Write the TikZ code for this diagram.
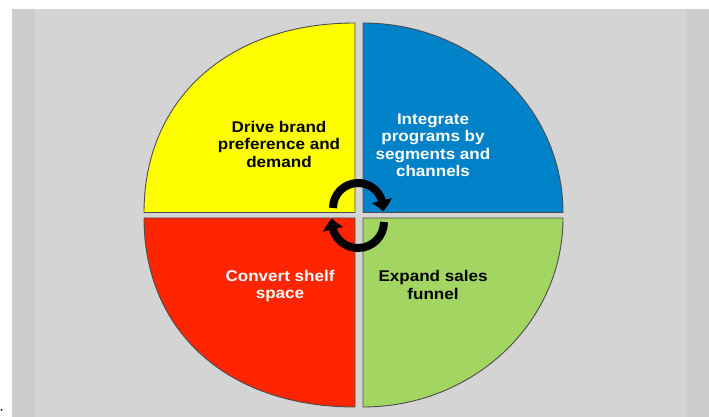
\documentclass[tikz,border=0pt]{standalone}
\usepackage{fontspec}
\setmainfont{Liberation Sans}[FakeStretch=1.1]
\usetikzlibrary{arrows.meta, bending}
\definecolor{bggray}{HTML}{D4D4D4}
\definecolor{bgstrip}{HTML}{CCCCCF}
\definecolor{quadyellow}{HTML}{FFFF00}
\definecolor{quadblue}{HTML}{0082C8}
\definecolor{quadred}{HTML}{FF2500}
\definecolor{quadgreen}{HTML}{A2D562}

\begin{document}
\begin{tikzpicture}[x=1pt, y=1pt,
    quad/.style={draw=black!70, line width=0.9pt},
    lbl/.style={align=center, inner sep=0pt, font=\fontsize{15.5}{17.5}\selectfont\bfseries},
    cyc/.style={line width=8pt, -{Triangle[width=20pt,length=11pt,bend]}}]
    \useasboundingbox (0,0) rectangle (709,417);
    \fill[bggray] (12,0) rectangle (709,408);
    \fill[bgstrip] (12,0) rectangle (35,408);
    \fill[bgstrip] (687,0) rectangle (709,408);
    \fill (1.5,7) circle (1);

    % four quarters
    \draw[quad, fill=quadyellow] (355,204.5) -- (144,204.5)
        .. controls (144,318) and (228,394) .. (355,394) -- cycle;
    \draw[quad, fill=quadblue] (363,204.5) -- (363,394)
        arc[start angle=90, end angle=0, x radius=200, y radius=189.5] -- cycle;
    \draw[quad, fill=quadred] (355,199) -- (144,199)
        .. controls (144,85.6) and (228,10) .. (355,10) -- cycle;
    \draw[quad, fill=quadgreen] (363,199) -- (563,199)
        arc[start angle=0, end angle=-90, x radius=200, y radius=189] -- cycle;

    \node[lbl] (drive) at (279,273) {Drive brand\\preference and\\demand};
    \node[lbl, text=white] (integrate) at (433,272) {Integrate\\programs by\\segments and\\channels};
    \node[lbl, text=white] (convert) at (280,131) {Convert shelf\\space};
    \node[lbl] (expand) at (433,132) {Expand sales\\funnel};

    % cycle arrows
    \draw[cyc] (333,209) arc[start angle=180, end angle=-8, radius=25];
    \draw[cyc] (384,195) arc[start angle=0, end angle=-188, radius=26];
\end{tikzpicture}
\end{document}
